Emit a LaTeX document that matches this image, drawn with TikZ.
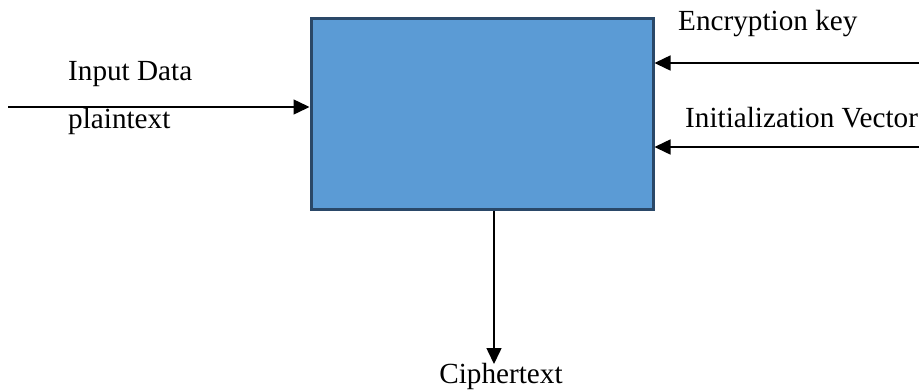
\documentclass[tikz,border=0pt]{standalone}
\usepackage{fontspec}
\setmainfont{Liberation Serif}
\usetikzlibrary{arrows.meta}
\definecolor{boxfill}{HTML}{5B9BD5}
\definecolor{boxline}{HTML}{2A4868}
\tikzset{
  cipherbox/.style={draw=boxline, line width=3pt, fill=boxfill,
    minimum width=342pt, minimum height=191pt, inner sep=0pt},
  flow/.style={line width=1.5pt, -{Triangle[length=16pt,width=15pt]}},
  lbl/.style={font=\fontsize{29.2}{33}\selectfont, inner sep=0pt, anchor=base west}
}
\begin{document}
\begin{tikzpicture}[x=1pt,y=-1pt]
  \useasboundingbox (0,0) rectangle (919,389);
  \clip (0,0) rectangle (919,389);
  % encryption block
  \node[cipherbox] (box) at (482,113.5) {};
  % free ends of the connectors
  \coordinate (inStart) at (8,107);
  \coordinate (keyStart) at (919,63);
  \coordinate (ivStart) at (919,147);
  \coordinate (outEnd) at (494,364);
  % connectors
  \draw[flow] (inStart) -- (inStart -| box.west);
  \draw[flow] (keyStart) -- (keyStart -| box.east);
  \draw[flow] (ivStart) -- (ivStart -| box.east);
  \draw[flow] (box.south -| outEnd) -- (outEnd);
  % labels
  \node[lbl] (inLbl) at (68,80) {Input Data};
  \node[lbl] (ptLbl) at (68,128) {plaintext};
  \node[lbl] (keyLbl) at (678,30) {Encryption key};
  \node[lbl] (ivLbl) at (685,127) {Initialization Vector};
  \node[lbl, anchor=base] (ctLbl) at (501,383) {Ciphertext};
\end{tikzpicture}
\end{document}
